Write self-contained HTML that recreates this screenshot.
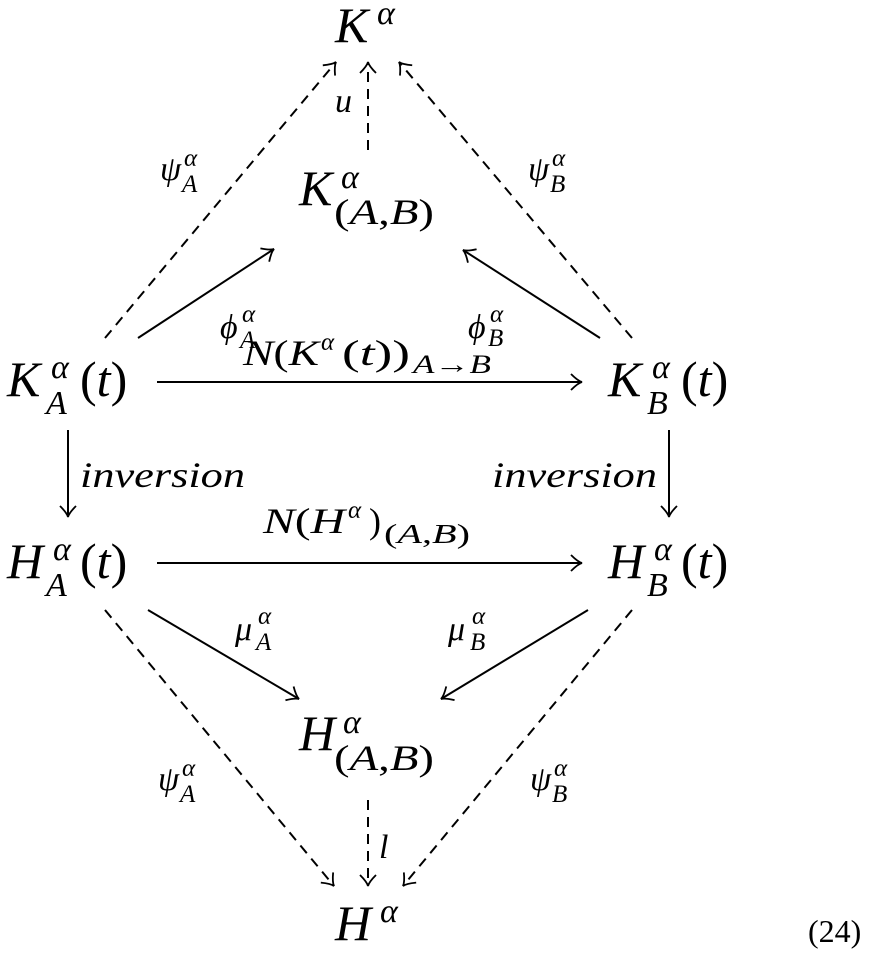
<!DOCTYPE html>
<html><head><style>
html,body{margin:0;padding:0;background:#fff;}
svg{display:block;}
text{font-family:"Liberation Serif",serif;fill:#000;}
.i{font-style:italic;}
</style></head><body>
<svg width="874" height="954" viewBox="0 0 874 954" xmlns="http://www.w3.org/2000/svg">
<defs>
<marker id="h" viewBox="-13 -10 15 20" markerWidth="15" markerHeight="20" refX="0" refY="0" orient="auto" markerUnits="userSpaceOnUse">
<path d="M-11,-8 Q-4,-1 0,0 Q-4,1 -11,8" fill="none" stroke="#000" stroke-width="1.8" stroke-dasharray="none"/>
</marker>
</defs>
<g stroke="#000" stroke-width="2" fill="none">
<g stroke-dasharray="10,7">
<line x1="105" y1="338" x2="336" y2="62" marker-end="url(#h)"/>
<line x1="368" y1="150" x2="368" y2="62" marker-end="url(#h)"/>
<line x1="632" y1="338" x2="399" y2="62" marker-end="url(#h)"/>
<line x1="105" y1="610" x2="334" y2="886" marker-end="url(#h)"/>
<line x1="632" y1="610" x2="403" y2="886" marker-end="url(#h)"/>
<line x1="368" y1="800" x2="368" y2="886" marker-end="url(#h)"/>
</g>
<line x1="138" y1="338" x2="274" y2="249" marker-end="url(#h)"/>
<line x1="600" y1="338" x2="463" y2="250" marker-end="url(#h)"/>
<line x1="157" y1="382" x2="582" y2="382" marker-end="url(#h)"/>
<line x1="68" y1="430" x2="68" y2="517" marker-end="url(#h)"/>
<line x1="669" y1="430" x2="669" y2="517" marker-end="url(#h)"/>
<line x1="157" y1="563" x2="582" y2="563" marker-end="url(#h)"/>
<line x1="148" y1="610" x2="299" y2="699" marker-end="url(#h)"/>
<line x1="588" y1="610" x2="441" y2="699" marker-end="url(#h)"/>
</g>

<text x="335" y="42" font-size="50" class="i">K</text>
<text x="377" y="24" font-size="34" class="i">α</text>

<text x="299" y="205" font-size="50" class="i">K</text>
<text x="341" y="188" font-size="34" class="i">α</text>
<text x="334" y="224" font-size="36" textLength="100" lengthAdjust="spacingAndGlyphs">(<tspan class="i">A</tspan>,<tspan class="i">B</tspan>)</text>

<text x="7" y="396" font-size="50" class="i">K</text>
<text x="51" y="378" font-size="34" class="i">α</text>
<text x="46" y="414" font-size="34" class="i">A</text>
<text x="80" y="396" font-size="50">(<tspan class="i">t</tspan>)</text>

<text x="608" y="396" font-size="50" class="i">K</text>
<text x="652" y="378" font-size="34" class="i">α</text>
<text x="647" y="414" font-size="34" class="i">B</text>
<text x="681" y="396" font-size="50">(<tspan class="i">t</tspan>)</text>

<text x="7" y="578" font-size="50" class="i">H</text>
<text x="53" y="560" font-size="34" class="i">α</text>
<text x="46" y="596" font-size="34" class="i">A</text>
<text x="80" y="578" font-size="50">(<tspan class="i">t</tspan>)</text>

<text x="608" y="578" font-size="50" class="i">H</text>
<text x="654" y="560" font-size="34" class="i">α</text>
<text x="647" y="596" font-size="34" class="i">B</text>
<text x="681" y="578" font-size="50">(<tspan class="i">t</tspan>)</text>

<text x="299" y="750" font-size="50" class="i">H</text>
<text x="343" y="733" font-size="34" class="i">α</text>
<text x="334" y="770" font-size="36" textLength="100" lengthAdjust="spacingAndGlyphs">(<tspan class="i">A</tspan>,<tspan class="i">B</tspan>)</text>

<text x="335" y="940" font-size="50" class="i">H</text>
<text x="380" y="922" font-size="34" class="i">α</text>

<text x="335" y="112" font-size="34" class="i">u</text>
<text x="160" y="180" font-size="34" class="i">ψ</text>
<text x="184" y="166" font-size="25" class="i">α</text>
<text x="182" y="192" font-size="25" class="i">A</text>
<text x="528" y="180" font-size="34" class="i">ψ</text>
<text x="552" y="166" font-size="25" class="i">α</text>
<text x="550" y="192" font-size="25" class="i">B</text>

<text x="220" y="338" font-size="34" class="i">ϕ</text>
<text x="242" y="322" font-size="25" class="i">α</text>
<text x="240" y="348" font-size="25" class="i">A</text>
<text x="468" y="338" font-size="34" class="i">ϕ</text>
<text x="490" y="322" font-size="25" class="i">α</text>
<text x="488" y="346" font-size="25" class="i">B</text>

<text x="243" y="365" font-size="36" textLength="76" lengthAdjust="spacingAndGlyphs"><tspan class="i">N</tspan>(<tspan class="i">K</tspan></text>
<text x="321" y="350" font-size="25" class="i">α</text>
<text x="342" y="365" font-size="36" textLength="68" lengthAdjust="spacingAndGlyphs">(<tspan class="i">t</tspan>))</text>
<text x="413" y="373" font-size="26" textLength="78" lengthAdjust="spacingAndGlyphs"><tspan class="i">A</tspan>→<tspan class="i">B</tspan></text>

<text x="80" y="487" font-size="36" class="i" textLength="165" lengthAdjust="spacingAndGlyphs">inversion</text>
<text x="492" y="487" font-size="36" class="i" textLength="165" lengthAdjust="spacingAndGlyphs">inversion</text>

<text x="263" y="533" font-size="36" textLength="82" lengthAdjust="spacingAndGlyphs"><tspan class="i">N</tspan>(<tspan class="i">H</tspan></text>
<text x="348" y="518" font-size="25" class="i">α</text>
<text x="369" y="533" font-size="36">)</text>
<text x="384" y="543" font-size="27" textLength="86" lengthAdjust="spacingAndGlyphs">(<tspan class="i">A</tspan>,<tspan class="i">B</tspan>)</text>

<text x="235" y="640" font-size="34" class="i">μ</text>
<text x="258" y="624" font-size="25" class="i">α</text>
<text x="256" y="650" font-size="25" class="i">A</text>
<text x="448" y="640" font-size="34" class="i">μ</text>
<text x="472" y="624" font-size="25" class="i">α</text>
<text x="470" y="650" font-size="25" class="i">B</text>

<text x="158" y="790" font-size="34" class="i">ψ</text>
<text x="182" y="776" font-size="25" class="i">α</text>
<text x="180" y="802" font-size="25" class="i">A</text>
<text x="530" y="790" font-size="34" class="i">ψ</text>
<text x="554" y="776" font-size="25" class="i">α</text>
<text x="552" y="802" font-size="25" class="i">B</text>

<text x="379" y="858" font-size="34" class="i">l</text>

<text x="808" y="942" font-size="32">(24)</text>
</svg>
</body></html>
